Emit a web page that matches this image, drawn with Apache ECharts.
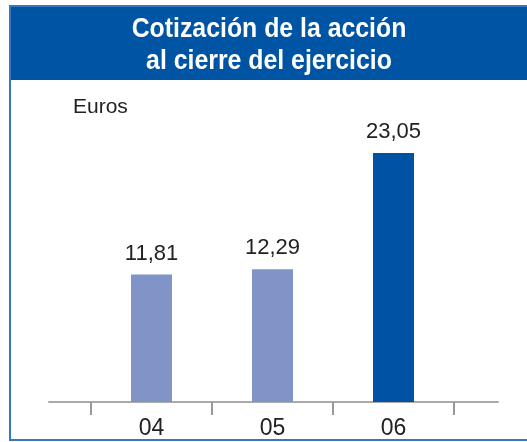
<!DOCTYPE html>
<html>
<head>
<meta charset="utf-8">
<script src="https://cdn.jsdelivr.net/npm/echarts@6/dist/echarts.min.js"></script>
<style>
  html, body { margin: 0; padding: 0; background: #fff; }
  #main { width: 527px; height: 442px; }
</style>
</head>
<body>
<div id="main"></div>
<script>
var categories = ['04', '05', '06'];
var cotizacion = [11.81, 12.29, 23.05];
var titulo = 'Cotización de la acción\nal cierre del ejercicio';
var unidad = 'Euros';

var myChart = echarts.init(document.getElementById('main'));
var fuente = "'Liberation Sans', Arial, sans-serif";

var option = {
    animation: false,
    backgroundColor: '#fff',
    graphic: [
        // franja azul del titulo y marco
        { type: 'rect', z: 0, shape: { x: 9, y: 6, width: 530, height: 74 }, style: { fill: '#0054a4' } },
        { type: 'rect', z: 0, shape: { x: 10, y: 6, width: 540, height: 434 }, style: { fill: null, stroke: '#3478c2', lineWidth: 2 } },
        {
            type: 'text', z: 5, x: 269, y: 14, scaleX: 0.92,
            style: {
                text: titulo, fill: '#fff', textAlign: 'center', textVerticalAlign: 'top',
                font: 'bold 27px ' + fuente, lineHeight: 32
            }
        }
    ],
    title: {
        text: unidad,
        left: 68,
        top: 92,
        textStyle: { color: '#222', fontSize: 21, fontWeight: 'normal', fontFamily: fuente }
    },
    grid: [
        { left: 49, right: 29, top: 132, bottom: 40 },
        { left: 91, right: 73, top: 132, bottom: 40 }
    ],
    xAxis: [{
        gridIndex: 0, type: 'value', min: 0, max: 1,
        axisLine: { show: true, lineStyle: { color: '#aaa', width: 2 } },
        axisTick: { show: false }, axisLabel: { show: false }, splitLine: { show: false }
    }, {
        gridIndex: 1, type: 'category', data: categories,
        axisLine: { show: true, lineStyle: { color: '#aaa', width: 2 } },
        axisTick: { show: true, length: 13, lineStyle: { color: '#999', width: 2 } },
        axisLabel: { color: '#222', fontSize: 23, fontFamily: fuente, margin: 15 }
    }],
    yAxis: [
        { gridIndex: 0, type: 'value', min: 0, max: 25, show: false },
        { gridIndex: 1, type: 'value', min: 0, max: 25, show: false }
    ],
    series: [{
        type: 'bar',
        xAxisIndex: 1,
        yAxisIndex: 1,
        barWidth: 41,
        data: cotizacion,
        itemStyle: {
            color: function (p) { return p.dataIndex === cotizacion.length - 1 ? '#0053a4' : '#8194c8'; }
        },
        label: {
            show: true,
            position: 'top',
            distance: 10,
            color: '#222',
            fontSize: 22,
            fontFamily: fuente,
            formatter: function (p) { return p.value.toFixed(2).replace('.', ','); }
        }
    }]
};

myChart.setOption(option);
</script>
</body>
</html>
